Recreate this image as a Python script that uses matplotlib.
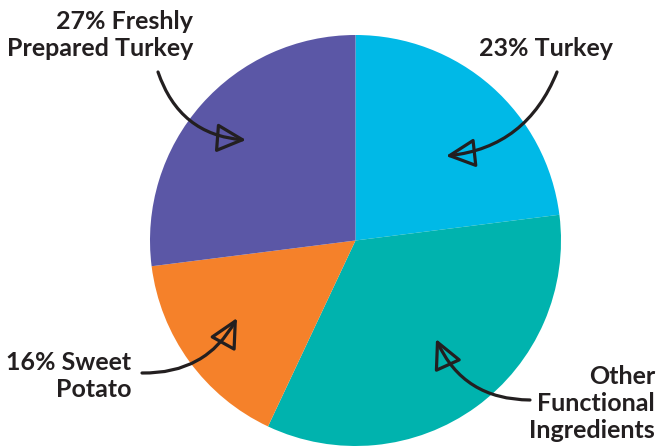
import matplotlib
matplotlib.use("Agg")
import matplotlib.pyplot as plt

categories = ["Turkey", "Other Functional Ingredients", "Sweet Potato", "Freshly Prepared Turkey"]
values = [23, 34, 16, 27]
colors = ["#00B9E7", "#00B3AE", "#F5812A", "#5B57A6"]
labels = ["23% Turkey", "Other\nFunctional\nIngredients", "16% Sweet\nPotato", "27% Freshly\nPrepared Turkey"]

W, H = 662, 446
fig = plt.figure(figsize=(W / 100, H / 100), dpi=100)
cx, cy, r = 355.5, 205.5, 205.5
ax = fig.add_axes([(cx - r) / W, (cy - r) / H, 2 * r / W, 2 * r / H])
ax.pie(values, colors=colors, startangle=90, counterclock=False, radius=1,
       wedgeprops=dict(linewidth=0))
ax.set_xlim(-1, 1)
ax.set_ylim(-1, 1)
ax.set_aspect("equal")
ax.axis("off")

tc = "#231F20"
font = dict(family=["Lato", "DejaVu Sans"], fontsize=18, fontweight="bold", color=tc, linespacing=1.2)

# text positions (figure pixels, y from bottom)
fig.text(546 / W, (H - 56) / H, labels[0], ha="center", va="baseline", **font)
fig.text(655 / W, (H - 438) / H, labels[1], ha="right", va="baseline", **font)
fig.text(131 / W, (H - 397) / H, labels[2], ha="right", va="baseline", **font)
fig.text(193 / W, (H - 56) / H, labels[3], ha="right", va="baseline", **font)

arrows = [
    ((557, 72), (446, 156), -0.3),
    ((530, 400), (436, 339), -0.32),
    ((142, 373), (237, 318), 0.3),
    ((158, 72), (246, 140), 0.33),
]
for (x0, y0), (x1, y1), rad in arrows:
    ax.annotate("", xy=(x1, H - y1), xycoords="figure pixels",
                xytext=(x0, H - y0), textcoords="figure pixels",
                arrowprops=dict(arrowstyle="-|>,head_length=0.9,head_width=0.45",
                                connectionstyle=f"arc3,rad={rad}",
                                color=tc, fc="none", lw=2.3, mutation_scale=20,
                                joinstyle="round", capstyle="round",
                                shrinkA=0, shrinkB=0),
                annotation_clip=False)

fig.savefig("out.png", dpi=100)
